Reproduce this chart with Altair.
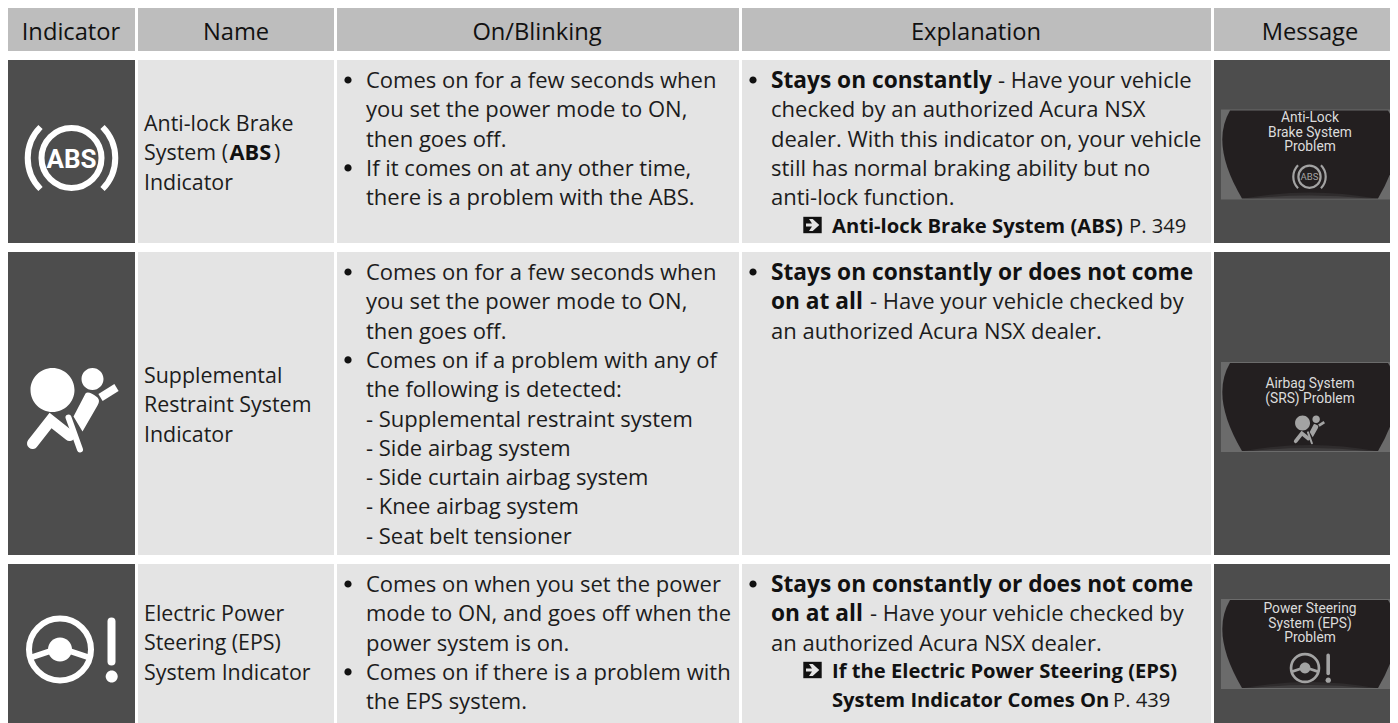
import altair as alt
import pandas as pd

# ---------- content ----------
headers = ["Indicator", "Name", "On/Blinking", "Explanation", "Message"]
names = [
    [[("Anti-lock Brake", 0)], [("System (", 0), ("ABS", 1), (")", 0)], [("Indicator", 0)]],
    [[("Supplemental", 0)], [("Restraint System", 0)], [("Indicator", 0)]],
    [[("Electric Power", 0)], [("Steering (EPS)", 0)], [("System Indicator", 0)]],
]
blinking = [
    ["Comes on for a few seconds when", "you set the power mode to ON,", "then goes off.",
     "If it comes on at any other time,", "there is a problem with the ABS."],
    ["Comes on for a few seconds when", "you set the power mode to ON,", "then goes off.",
     "Comes on if a problem with any of", "the following is detected:",
     "- Supplemental restraint system", "- Side airbag system",
     "- Side curtain airbag system", "- Knee airbag system", "- Seat belt tensioner"],
    ["Comes on when you set the power", "mode to ON, and goes off when the",
     "power system is on.", "Comes on if there is a problem with", "the EPS system."],
]
blink_bullets = [[0, 3], [0, 3], [0, 3]]
explain = [
    [[("Stays on constantly", 1), ("- Have your vehicle", 0)],
     [("checked by an authorized Acura NSX", 0)],
     [("dealer. With this indicator on, your vehicle", 0)],
     [("still has normal braking ability but no", 0)],
     [("anti-lock function.", 0)]],
    [[("Stays on constantly or does not come", 1)],
     [("on at all", 1), ("- Have your vehicle checked by", 0)],
     [("an authorized Acura NSX dealer.", 0)]],
    [[("Stays on constantly or does not come", 1)],
     [("on at all", 1), ("- Have your vehicle checked by", 0)],
     [("an authorized Acura NSX dealer.", 0)]],
]
refs = [
    [[("Anti-lock Brake System (ABS)", 1), ("P. 349", 0)]],
    [],
    [[("If the Electric Power Steering (EPS)", 1)],
     [("System Indicator Comes On", 1), ("P. 439", 0)]],
]
messages = [["Anti-Lock", "Brake System", "Problem"],
            ["Airbag System", "(SRS) Problem"],
            ["Power Steering", "System (EPS)", "Problem"]]

# ---------- layout ----------
col_edges = [(7, 135), (138, 334), (337, 739), (742, 1211), (1214, 1398)]
row_edges = [(60, 243), (252, 555), (564, 723)]
head_edge = (7, 51)
head_centers = [71, 236, 537, 976, 1310]
head_base = 40
LH = 29.3
name_x = 144
name_first = [131, 383, 621]
name_lh = 29.3
text_first = [88, 280, 592]
blink_x, explain_x = 366, 771
blink_bullet_x, explain_bullet_x = 348, 753
ref_x = 832
ref_first = [233, None, 678]
ref_lh = 28.5
cont_x = {"ABS": 229.5, ")": 274,
          "- Have your vehicle": 998, "- Have your vehicle checked by": 870,
          "P. 349": 1129, "P. 439": 1113}
msg_first = [122, 388, 613]
msg_lh = 14.5
panel_mid = [154.5, 407, 644]
FONT = "Open Sans"
FS = 22.0
FS_BOLD = 22.7
FS_NAME = 21.4
FS_REF = 20.2
FS_HEAD = 23.7
INK = "#1c1c1c"

reg, bold, name_reg, name_bold, ref_reg, ref_bold = [], [], [], [], [], []
def put(x, y, seg):
    (bold if seg[1] else reg).append({"x": x, "y": y, "t": seg[0]})

for r in range(3):
    for i, line in enumerate(names[r]):
        for j, seg in enumerate(line):
            target = name_bold if seg[1] else name_reg
            target.append({"x": name_x if j == 0 else cont_x[seg[0]],
                           "y": name_first[r] + i * name_lh, "t": seg[0]})
    for i, line in enumerate(blinking[r]):
        put(blink_x, text_first[r] + i * LH, (line, 0))
    for i, line in enumerate(explain[r]):
        for j, seg in enumerate(line):
            put(explain_x if j == 0 else cont_x[seg[0]], text_first[r] + i * LH, seg)
    for i, line in enumerate(refs[r]):
        for j, seg in enumerate(line):
            target = ref_bold if seg[1] else ref_reg
            target.append({"x": ref_x if j == 0 else cont_x[seg[0]],
                           "y": ref_first[r] + i * ref_lh, "t": seg[0]})

X = alt.X("x:Q", scale=alt.Scale(domain=[8, 1390], range=[0, 1382], nice=False, zero=False), axis=None)
Y = alt.Y("y:Q", scale=alt.Scale(domain=[8, 723], range=[0, 715], nice=False, zero=False), axis=None)

def rects(rows, color):
    return alt.Chart(pd.DataFrame(rows)).mark_rect(color=color, strokeWidth=0).encode(
        x=X, x2="x2:Q", y=Y, y2="y2:Q")

def texts(rows, font=FONT, size=FS, weight="normal", color=INK, align="left"):
    return alt.Chart(pd.DataFrame(rows)).mark_text(
        font=font, fontSize=size, fontWeight=weight, color=color, align=align, baseline="alphabetic"
    ).encode(x=X, y=Y, text="t:N")

def glyph(path, cx, cy, scale=1.0, color="white", filled=True, sw=0, cap="butt", opacity=1):
    kw = dict(shape=path, size=4 * scale * scale, opacity=opacity)
    if filled:
        kw.update(filled=True, color=color, strokeWidth=0)
    else:
        kw.update(filled=False, color=color, strokeWidth=sw * scale, strokeCap=cap)
    return alt.Chart(pd.DataFrame([{"x": cx, "y": cy}])).mark_point(**kw).encode(x=X, y=Y)

layers = []
layers.append(rects([{"x": a, "x2": min(b, 1390), "y": head_edge[0], "y2": head_edge[1]} for a, b in col_edges], "#bdbdbd"))
layers.append(rects([{"x": col_edges[c][0], "x2": col_edges[c][1], "y": t, "y2": b}
                     for c in (1, 2, 3) for t, b in row_edges], "#e4e4e4"))
layers.append(rects([{"x": col_edges[c][0], "x2": min(col_edges[c][1], 1390), "y": t, "y2": b}
                     for c in (0, 4) for t, b in row_edges], "#4d4d4d"))
layers.append(rects([{"x": 1221, "x2": 1390, "y": m - 45, "y2": m + 45} for m in panel_mid], "#6b6b6b"))

# headers
layers.append(texts([{"x": c, "y": head_base, "t": h} for c, h in zip(head_centers, headers)],
                    align="center", color="#111111", size=FS_HEAD))
layers.append(texts(reg))
layers.append(texts(bold, weight="bold", color="#111111", size=FS_BOLD))
layers.append(texts(name_reg, size=FS_NAME))
layers.append(texts(name_bold, weight="bold", color="#111111", size=21.8))
layers.append(texts(ref_reg, size=FS_REF))
layers.append(texts(ref_bold, weight="bold", color="#111111", size=FS_REF))

# bullets
bul = "M -3.6,0 A 3.6 3.6 0 1 1 3.6,0 A 3.6 3.6 0 1 1 -3.6,0 Z"
for r in range(3):
    for i in blink_bullets[r]:
        layers.append(glyph(bul, blink_bullet_x, text_first[r] - 8 + i * LH, color="#111111"))
    layers.append(glyph(bul, explain_bullet_x, text_first[r] - 8, color="#111111"))

# cross-reference arrows
box = "M -9.2,-8.2 L 9.2,-8.2 L 9.2,8.2 L -9.2,8.2 Z"
arrow = "M -6.5,-1.4 L -0.5,-1.4 L -3.5,-6 L 0.2,-6 L 6.8,0 L 0.2,6 L -3.5,6 L -0.5,1.4 L -6.5,1.4 Z"
for cy in (225, 670):
    layers.append(glyph(box, 812.5, cy, color="#111111"))
    layers.append(glyph(arrow, 812.5, cy, color="#e4e4e4"))

# message panels
screen = "M -80,-44 L 78,-44 Q 100,-10 68,44 L -68,44 Q -100,-10 -80,-44 Z"
glow1 = "M -66,44 Q 0,32 66,44 Z"
glow2 = "M -58,44 Q 0,38 58,44 Z"
for m in panel_mid:
    layers.append(glyph(screen, 1310, m, color="#231f20"))
    layers.append(glyph(glow1, 1310, m, color="#555555", opacity=0.25))
    layers.append(glyph(glow2, 1310, m, color="#6a6a6a", opacity=0.3))
msg_rows = [{"x": 1310, "y": msg_first[r] + i * msg_lh, "t": s}
            for r in range(3) for i, s in enumerate(messages[r])]
layers.append(texts(msg_rows, font="Roboto", size=13.8, color="#dcdcdc", align="center"))

# ABS icon
ring = "M -30,0 A 30 30 0 1 1 30,0 A 30 30 0 1 1 -30,0 Z"
arcL = "M -31,-31 A 44 44 0 0 0 -31,31"
arcR = "M 31,-31 A 44 44 0 0 1 31,31"
def abs_icon(cx, cy, s, c):
    out = [glyph(ring, cx, cy, s, c, False, 6),
           glyph(arcL, cx, cy, s, c, False, 6),
           glyph(arcR, cx, cy, s, c, False, 6)]
    out.append(texts([{"x": cx, "y": cy + 9.5 * s, "t": "ABS"}],
                     font="Roboto", size=26 * s,
                     weight="bold" if s == 1 else "normal", color=c, align="center"))
    return out

# airbag icon
head2 = ("M -41,-20.5 A 22 22 0 1 1 3,-20.5 A 22 22 0 1 1 -41,-20.5 Z "
         "M 10,-31.5 A 11 11 0 1 1 32,-31.5 A 11 11 0 1 1 10,-31.5 Z "
         "M 2,6 L 14,-17 Q 17,-20 26,-13 Q 29,-10 26,-5 L 11,21 Z")
arm = "M -39,33 L -21,10 L -2,25"
belt = "M -3,7 L 8.5,39"
shoulder = "M 29,-13 L 45,-23"
def bag_icon(cx, cy, s, c):
    return [glyph(head2, cx, cy, s, c),
            glyph(arm, cx, cy, s, c, False, 11, "round"),
            glyph(belt, cx, cy, s, c, False, 6, "round"),
            glyph(shoulder, cx, cy, s, c, False, 8, "butt")]

# steering icon
wheel = "M -31,0 A 31 31 0 1 1 31,0 A 31 31 0 1 1 -31,0 Z"
hub = "M -12,0 A 12 12 0 1 1 12,0 A 12 12 0 1 1 -12,0 Z"
spokes = "M -29,8 L -8,1 M 29,8 L 8,1"
bar = "M 51.5,-28 L 51.5,12"
dot = "M 45.7,27 A 6 6 0 1 1 57.7,27 A 6 6 0 1 1 45.7,27 Z"
def wheel_icon(cx, cy, s, c):
    return [glyph(wheel, cx, cy, s, c, False, 6),
            glyph(hub, cx, cy, s, c),
            glyph(spokes, cx, cy, s, c, False, 6),
            glyph(bar, cx, cy, s, c, False, 8, "round"),
            glyph(dot, cx, cy, s, c)]

layers += abs_icon(71.5, 158, 1, "white")
layers += bag_icon(71.5, 410.5, 1, "white")
layers += wheel_icon(60, 649.5, 1, "white")
layers += abs_icon(1309.5, 176.7, 0.37, "#a3a3a3")
layers += bag_icon(1309, 430, 0.34, "#a3a3a3")
layers += wheel_icon(1305, 668, 0.45, "#a3a3a3")

chart = alt.layer(*layers).properties(
    width=1382, height=715, padding=0, background="white",
    autosize=alt.AutoSizeParams(type="none"),
).configure_view(stroke=None)

chart.save("out.html", embed_options={"renderer": "svg", "actions": False})
